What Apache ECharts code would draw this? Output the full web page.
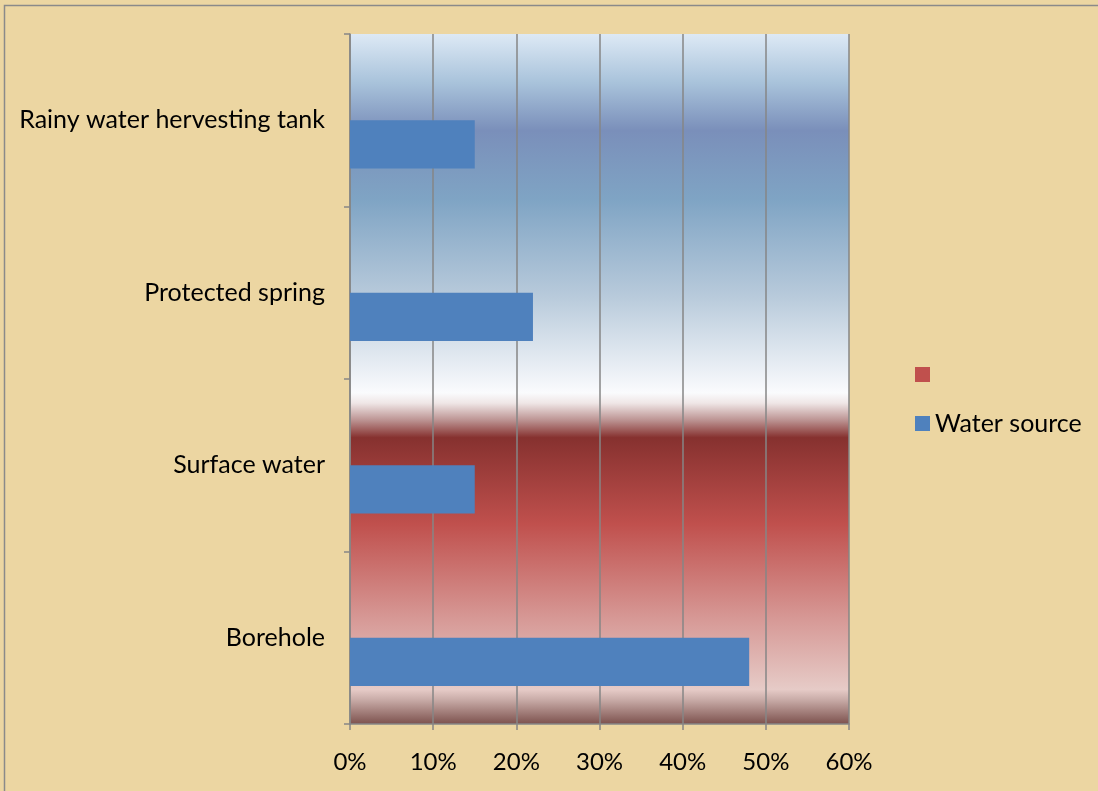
<!DOCTYPE html>
<html>
<head>
<meta charset="utf-8">
<script src="https://cdn.jsdelivr.net/npm/echarts@6/dist/echarts.min.js"></script>
<style>
  html, body { margin: 0; padding: 0; background: #ecd6a2; }
  #main { width: 1098px; height: 791px; }
</style>
</head>
<body>
<div id="main"></div>
<script>
/* data */
var categories = ['Borehole', 'Surface water', 'Protected spring', 'Rainy water hervesting tank'];
var waterSource = [0.48, 0.15, 0.22, 0.15];
var emptySeries = [null, null, null, null];
var xTicks = [0, 0.1, 0.2, 0.3, 0.4, 0.5, 0.6];

var chart = echarts.init(document.getElementById('main'));

// plot area fill, blue sky over red band
var plotFill = new echarts.graphic.LinearGradient(0, 0, 0, 1, [
  { offset: 0.00, color: '#dde9f5' },
  { offset: 0.07, color: '#a9c3db' },
  { offset: 0.14, color: '#7a8fba' },
  { offset: 0.24, color: '#7fa4c4' },
  { offset: 0.38, color: '#b8cadb' },
  { offset: 0.52, color: '#fafbfd' },
  { offset: 0.535, color: '#efe6e6' },
  { offset: 0.56, color: '#bb9291' },
  { offset: 0.585, color: '#86312f' },
  { offset: 0.71, color: '#c0504d' },
  { offset: 0.85, color: '#d79a97' },
  { offset: 0.95, color: '#e6cbc7' },
  { offset: 0.965, color: '#c8aba7' },
  { offset: 1.00, color: '#7d524e' }
]);

var option = {
  backgroundColor: '#ecd6a2',
  textStyle: { fontFamily: 'Lato', color: '#000' },
  graphic: [{
    type: 'rect',
    shape: { x: 4.5, y: 5.5, width: 1200, height: 900 },
    style: { fill: null, stroke: '#8a8a8a', lineWidth: 1.5 },
    silent: true
  }],
  grid: {
    left: 350, right: 249, top: 34, bottom: 67,
    show: true,
    backgroundColor: plotFill,
    borderWidth: 0
  },
  legend: {
    orient: 'vertical',
    left: 910,
    top: 357,
    itemWidth: 15,
    itemHeight: 15,
    itemGap: 24,
    icon: 'rect',
    textStyle: { fontSize: 25, fontFamily: 'Lato', color: '#000' },
    data: [' ', 'Water source']
  },
  xAxis: {
    type: 'value',
    min: 0,
    max: 0.6,
    interval: 0.1,
    axisLine: { show: true, lineStyle: { color: '#868686', width: 1.5 } },
    axisTick: { show: true, length: 6, lineStyle: { color: '#868686', width: 1.5 } },
    splitLine: { show: true, lineStyle: { color: '#868686', width: 1.5 } },
    axisLabel: {
      fontSize: 24,
      margin: 26,
      color: '#000',
      formatter: function (v) { return Math.round(v * 100) + '%'; }
    }
  },
  yAxis: {
    type: 'category',
    data: categories,
    axisLine: { show: true, lineStyle: { color: '#868686', width: 1.5 } },
    axisTick: { show: true, length: 6, lineStyle: { color: '#868686', width: 1.5 } },
    axisLabel: { fontSize: 25, margin: 25, color: '#000' }
  },
  series: [
    {
      name: ' ',
      type: 'bar',
      data: emptySeries,
      barGap: 0,
      barCategoryGap: '44%',
      itemStyle: { color: '#c0504d' },
      silent: true
    },
    {
      name: 'Water source',
      type: 'bar',
      data: waterSource,
      barGap: 0,
      barCategoryGap: '44%',
      itemStyle: { color: '#4f81bd' },
      silent: true
    }
  ],
  animation: false
};

chart.setOption(option);
</script>
</body>
</html>
